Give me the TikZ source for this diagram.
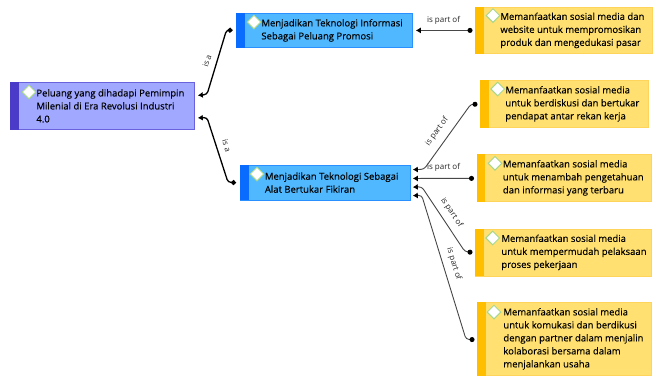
\documentclass[tikz,border=0pt]{standalone}
\usepackage{fontspec}
\setmainfont{Open Sans}
\newfontfamily\cardfont{Open Sans}[FakeBold=0.25]
\usetikzlibrary{arrows.meta,shapes.geometric,calc}
\definecolor{rootfill}{HTML}{A0A8FF}
\definecolor{rootedge}{HTML}{6A62DC}
\definecolor{rootstrip}{HTML}{4A3CC8}
\definecolor{bluefill}{HTML}{4FB8FF}
\definecolor{blueedge}{HTML}{2A90FF}
\definecolor{bluestrip}{HTML}{0A6CFF}
\definecolor{yelfill}{HTML}{FFE070}
\definecolor{yeledge}{HTML}{FFD45A}
\definecolor{yelstrip}{HTML}{FFBE00}
\definecolor{diaedge}{HTML}{A6D78C}
\newcommand{\boxtext}[3]{\makebox[#1pt][l]{\hspace{#2pt}\parbox[c]{\dimexpr#1pt-#2pt\relax}{\cardfont\fontsize{9.5}{13}\selectfont\baselineskip=13pt\raggedright #3}}}
\tikzset{
  x=1pt,y=-1pt,
  card/.style={draw,anchor=north west,inner sep=0pt,line width=0.8pt,text=black},
  rootcard/.style={card,fill=rootfill,draw=rootedge},
  bluecard/.style={card,fill=bluefill,draw=blueedge},
  yelcard/.style={card,fill=yelfill,draw=yeledge},
  badge/.style={diamond,aspect=1,draw=diaedge,fill=white,line width=1pt,minimum size=14pt,inner sep=0pt},
  isa/.style={line width=1.3pt,draw=black,rounded corners=3pt,{Latex[length=5pt,width=6pt]}-{Circle[length=5pt]}},
  partof/.style={line width=0.9pt,draw=black!72,rounded corners=3pt,{Latex[length=5pt,width=6pt,color=black]}-{Circle[length=5pt,color=black]}},
  linktext/.style={font=\fontsize{8}{9}\selectfont,text=black!85,inner sep=0pt}
}
\begin{document}
\begin{tikzpicture}
\useasboundingbox (0,0) rectangle (657,376);
\fill[white] (0,0) rectangle (657,376);

\node[rootcard,minimum width=184pt,minimum height=47pt] (root) at (10,82) {\boxtext{184}{26}{Peluang yang dihadapi Pemimpin\\Milenial di Era Revolusi Industri\\4.0}};
\node[bluecard,minimum width=176pt,minimum height=34pt] (top) at (236,13) {\boxtext{176}{25}{Menjadikan Teknologi Informasi\\Sebagai Peluang Promosi}};
\node[bluecard,minimum width=170.5pt,minimum height=34.5pt] (mid) at (239.5,165) {\boxtext{170.5}{25}{Menjadikan Teknologi Sebagai\\Alat Bertukar Fikiran}};
\node[yelcard,minimum width=177pt,minimum height=46pt] (yone) at (475,7) {\boxtext{177}{25}{Memanfaatkan sosial media dan\\website untuk mempromosikan\\produk dan mengedukasi pasar}};
\node[yelcard,minimum width=168pt,minimum height=47pt] (ytwo) at (480,80) {\boxtext{168}{25}{Memanfaatkan sosial media\\untuk berdiskusi dan bertukar\\pendapat antar rekan kerja}};
\node[yelcard,minimum width=174.5pt,minimum height=47pt] (ythree) at (476.5,154) {\boxtext{174.5}{26}{Memanfaatkan sosial media\\untuk menambah pengetahuan\\dan informasi yang terbaru}};
\node[yelcard,minimum width=176pt,minimum height=47pt] (yfour) at (475,228.5) {\boxtext{176}{26}{Memanfaatkan sosial media\\untuk mempermudah pelaksaan\\proses pekerjaan}};
\node[yelcard,minimum width=174pt,minimum height=73pt] (yfive) at (477,302) {\boxtext{174}{26}{Memanfaatkan sosial media\\untuk komukasi dan berdikusi\\dengan partner dalam menjalin\\kolaborasi bersama dalam\\menjalankan usaha}};

\fill[rootstrip] (root.north west) rectangle ([xshift=9pt]root.south west);
\fill[bluestrip] (top.north west) rectangle ([xshift=9pt]top.south west);
\fill[bluestrip] (mid.north west) rectangle ([xshift=9pt]mid.south west);
\foreach \n in {yone,ytwo,ythree,yfour,yfive}
  \fill[yelstrip] (\n.north west) rectangle ([xshift=8.5pt]\n.south west);

\node[badge] (brootd) at ([shift={(19,10)}]root.north west) {};
\node[badge] (btop) at ([shift={(18,9)}]top.north west) {};
\node[badge] (bmid) at ([shift={(17.5,9)}]mid.north west) {};
\node[badge] (byone) at ([shift={(18,8.5)}]yone.north west) {};
\node[badge] (bytwo) at ([shift={(17.7,9)}]ytwo.north west) {};
\node[badge] (bythree) at ([shift={(18.5,9.3)}]ythree.north west) {};
\node[badge] (byfour) at ([shift={(17.7,9.5)}]yfour.north west) {};
\node[badge] (byfive) at ([shift={(17,10)}]yfive.north west) {};

\draw[isa] ([shift={(3,-10.5)}]root.east) -- (207,94.5) -- (226.5,30) -- ([shift={(-3.5,0)}]top.west);
\draw[isa] ([shift={(3,12)}]root.east) -- (207,117.5) -- (228,182.3) -- ([shift={(-3.5,0)}]mid.west);
\draw[partof] ([shift={(3,0)}]top.east) -- ([shift={(-2.5,0)}]yone.west);
\draw[partof] ([shift={(2,-13)}]mid.east) -- (424,169.3) -- (471,104) -- ([shift={(-2.5,0.5)}]ytwo.west);
\draw[partof] ([shift={(2,-4.2)}]mid.east) -- ([shift={(-2.5,0.5)}]ythree.west);
\draw[partof] ([shift={(2,4.5)}]mid.east) -- (421.7,186.7) -- (465,251.7) -- ([shift={(-2.5,0)}]yfour.west);
\draw[partof] ([shift={(2,13)}]mid.east) -- (421.7,195.3) -- (466,339.3) -- ([shift={(-2.5,0.8)}]yfive.west);

\node[linktext,rotate=72] (lone) at (207,61) {is a};
\node[linktext,rotate=-72] (ltwo) at (226.7,145.7) {is a};
\node[linktext] (lthree) at (443.5,20) {is part of};
\node[linktext,rotate=54] (lfour) at (437,131.7) {is part of};
\node[linktext] (lfive) at (443.5,167.7) {is part of};
\node[linktext,rotate=-56] (lsix) at (451.7,212.7) {is part of};
\node[linktext,rotate=-73] (lseven) at (454,264) {is part of};
\end{tikzpicture}
\end{document}
